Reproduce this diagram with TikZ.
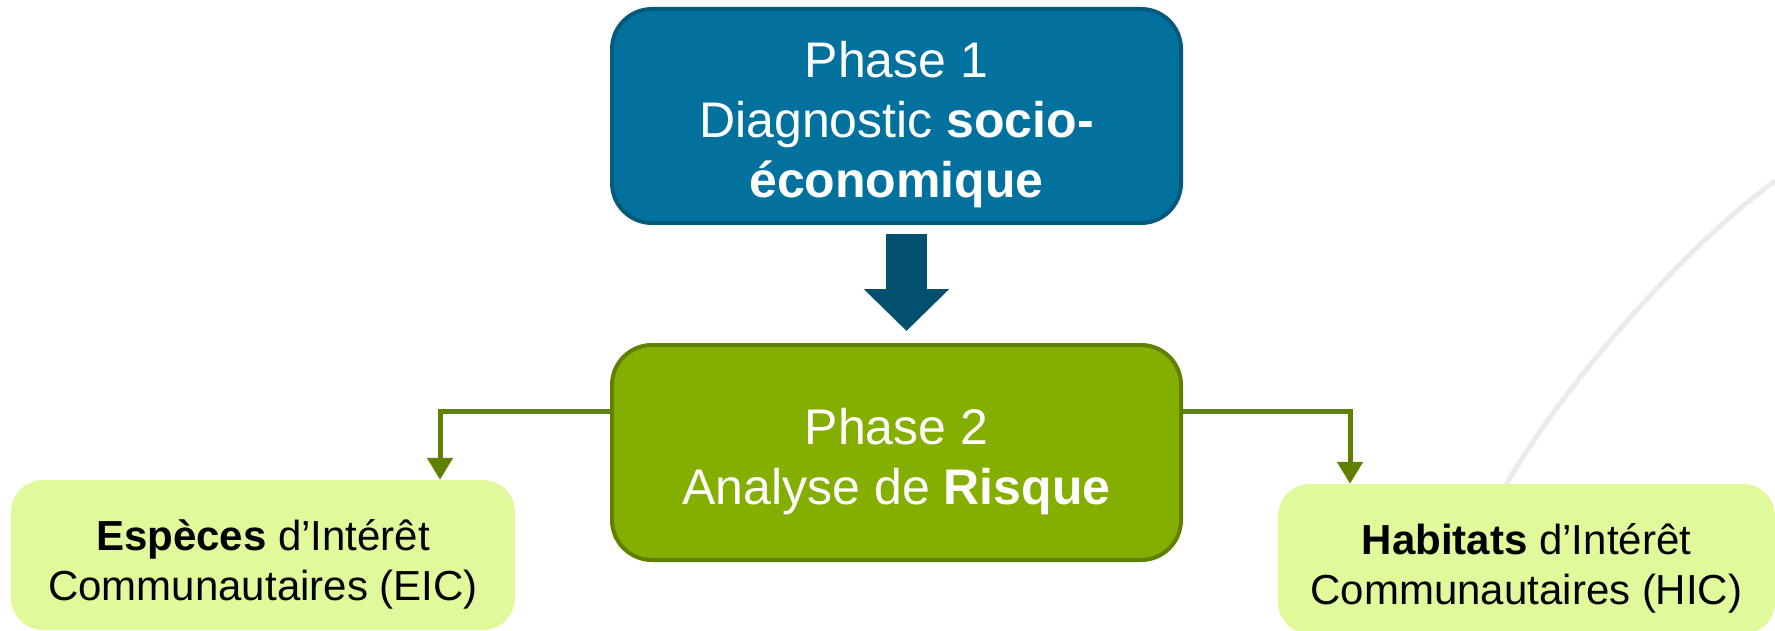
\documentclass[tikz,border=0pt]{standalone}
\usepackage{fontspec}
\setmainfont{Liberation Sans}
\usetikzlibrary{arrows.meta}
\definecolor{pafill}{HTML}{02719E}
\definecolor{paline}{HTML}{055A7B}
\definecolor{paarrow}{HTML}{03506E}
\definecolor{pbfill}{HTML}{84AE00}
\definecolor{pbline}{HTML}{5F8000}
\definecolor{leaffill}{HTML}{E0F99B}
\definecolor{arcgrey}{HTML}{EBEBEB}
\tikzset{
  phasebox/.style={rounded corners=40pt, line width=4pt,
    minimum width=569pt, minimum height=214pt, inner sep=0pt},
  phasetext/.style={text=white, align=center, inner sep=0pt,
    font=\fontsize{50}{60}\selectfont},
  leafbox/.style={rounded corners=32pt, fill=leaffill, inner sep=0pt},
  leaftext/.style={text=black, align=center, inner sep=0pt,
    font=\fontsize{42}{50}\selectfont},
  conn/.style={draw=pbline, line width=5pt, -{Triangle[width=25pt,length=22pt]}},
}
\begin{document}
\begin{tikzpicture}[x=1pt,y=-1pt]
\useasboundingbox (0,0) rectangle (1775,631);
\draw[arcgrey, line width=5pt] (1506,485) .. controls (1560,390) and (1680,250) .. (1775,181);
\node[phasebox, fill=pafill, draw=paline] (p1) at (896.5,116) {};
\node[phasetext] (p1t) at ([yshift=-9pt]p1.center)
  {Phase 1\\Diagnostic \textbf{socio-}\\\textbf{économique}};
\node[phasebox, fill=pbfill, draw=pbline, minimum height=215pt] (p2) at (896.5,452.5) {};
\node[phasetext] (p2t) at ([yshift=-9pt]p2.center)
  {Phase 2\\Analyse de \textbf{Risque}};
\node[leafbox, minimum width=504pt, minimum height=150pt] (eic) at (263,555) {};
\node[leaftext] (eict) at ([yshift=-9pt]eic.center)
  {\textbf{Espèces} d’Intérêt\\Communautaires (EIC)};
\node[leafbox, minimum width=497pt, minimum height=150pt] (hic) at (1526.5,559) {};
\node[leaftext] (hict) at ([yshift=-9pt]hic.center)
  {\textbf{Habitats} d’Intérêt\\Communautaires (HIC)};
\draw[paarrow, line width=41pt, -{Triangle[width=83pt,length=42pt]},
  shorten <=9pt, shorten >=12pt] ([xshift=10pt]p1.south) -- ([xshift=10pt]p2.north);
\draw[conn] ([yshift=41.5pt]p2.west) -| ([xshift=177pt]eic.north);
\draw[conn] ([yshift=41.5pt]p2.east) -| ([xshift=-176.5pt]hic.north);
\end{tikzpicture}
\end{document}
